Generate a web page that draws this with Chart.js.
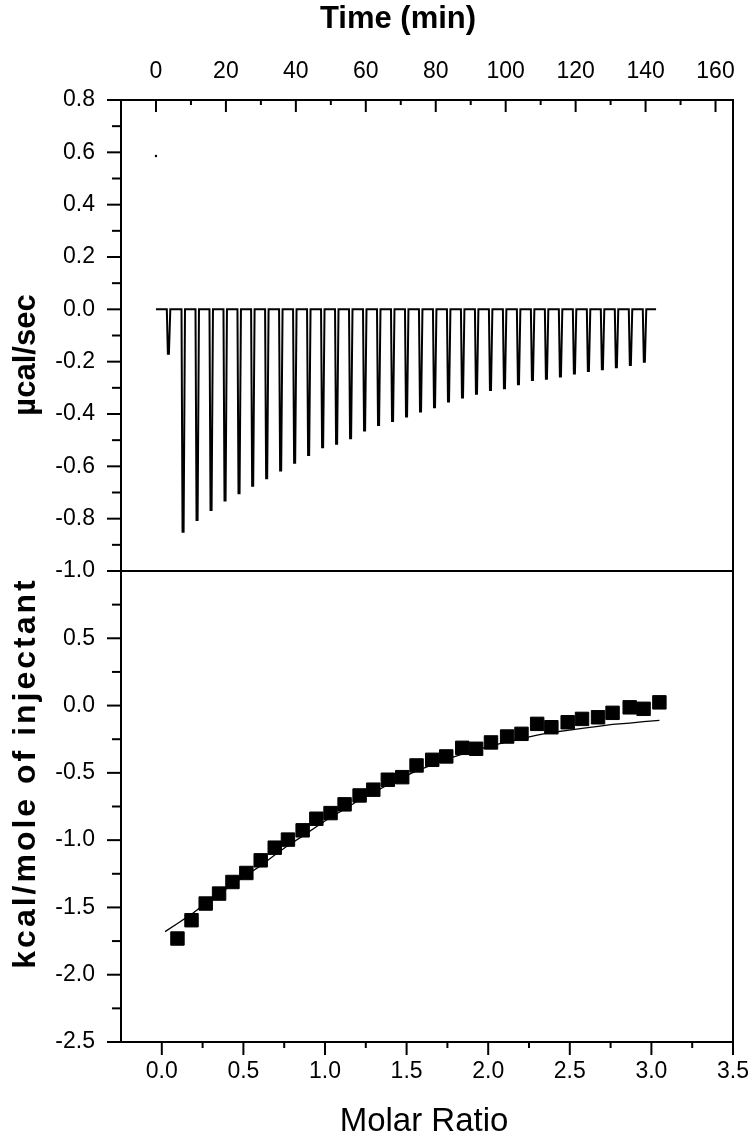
<!DOCTYPE html>
<html>
<head>
<meta charset="utf-8">
<script src="https://cdn.jsdelivr.net/npm/chart.js@4.4.1/dist/chart.umd.min.js"></script>
<style>
  html, body { margin: 0; padding: 0; background: #fff; }
</style>
</head>
<body>
<canvas id="itcChart" width="754" height="1143"></canvas>
<script>
// raw thermogram: injection start times (min) and peak heights (µcal/sec)
const injectionTime = [3.1, 7.3, 11.3, 15.3, 19.3, 23.3, 27.2, 31.2, 35.2, 39.2, 43.2, 47.2,
    51.2, 55.2, 59.2, 63.2, 67.2, 71.2, 75.2, 79.2, 83.2, 87.2, 91.2, 95.2, 99.2, 103.2,
    107.2, 111.2, 115.2, 119.2, 123.2, 127.2, 131.2, 135.2, 139.2];
const injectionPeak = [-0.17, -0.85, -0.805, -0.767, -0.731, -0.703, -0.674, -0.646, -0.616,
    -0.586, -0.557, -0.527, -0.514, -0.493, -0.463, -0.442, -0.427, -0.410, -0.390, -0.374,
    -0.352, -0.337, -0.323, -0.308, -0.302, -0.286, -0.270, -0.265, -0.257, -0.245, -0.236,
    -0.229, -0.221, -0.213, -0.200];
const baselineStart = 0;
const baselineEnd = 143;
const firstReading = [{ x: 0, y: 0.586 }];

// integrated heats (kcal/mole of injectant) vs molar ratio
const molarRatio = [0.096, 0.182, 0.269, 0.351, 0.433, 0.518, 0.606, 0.692, 0.773, 0.863,
    0.947, 1.034, 1.120, 1.212, 1.296, 1.385, 1.473, 1.561, 1.657, 1.743, 1.841, 1.926,
    2.017, 2.116, 2.204, 2.300, 2.387, 2.487, 2.575, 2.673, 2.762, 2.867, 2.952, 3.049];
const heat = [-1.731, -1.595, -1.471, -1.397, -1.311, -1.244, -1.150, -1.056, -0.996, -0.927,
    -0.841, -0.799, -0.734, -0.668, -0.625, -0.551, -0.532, -0.445, -0.403, -0.378, -0.314,
    -0.321, -0.274, -0.230, -0.210, -0.136, -0.161, -0.124, -0.099, -0.087, -0.054, -0.013,
    -0.024, 0.024];

// fitted curve
const fitRatio = [0.02, 0.096, 0.182, 0.269, 0.351, 0.433, 0.518, 0.606, 0.692, 0.773, 0.863,
    0.947, 1.034, 1.120, 1.212, 1.296, 1.385, 1.473, 1.561, 1.657, 1.743, 1.841, 1.926,
    2.017, 2.116, 2.204, 2.300, 2.387, 2.487, 2.575, 2.673, 2.762, 2.867, 2.952, 3.049];
const fitHeat = [-1.68, -1.62, -1.55, -1.47, -1.40, -1.33, -1.26, -1.19, -1.11, -1.04, -0.97,
    -0.90, -0.83, -0.77, -0.70, -0.645, -0.59, -0.535, -0.485, -0.44, -0.40, -0.36, -0.33,
    -0.30, -0.27, -0.245, -0.22, -0.20, -0.185, -0.17, -0.155, -0.14, -0.13, -0.12, -0.11];

// tick labels
const timeTicks = [0, 20, 40, 60, 80, 100, 120, 140, 160];
const powerTicks = [-1.0, -0.8, -0.6, -0.4, -0.2, 0.0, 0.2, 0.4, 0.6, 0.8];
const ratioTicks = [0.0, 0.5, 1.0, 1.5, 2.0, 2.5, 3.0, 3.5];
const heatTicks = [-2.5, -2.0, -1.5, -1.0, -0.5, 0.0, 0.5, 1.0];

// thermogram trace: baseline with a narrow spike per injection
const trace = [{ x: baselineStart, y: 0 }];
injectionTime.forEach((t, i) => {
    trace.push({ x: t, y: 0 }, { x: t + 0.3, y: injectionPeak[i] }, { x: t + 0.6, y: injectionPeak[i] }, { x: t + 1.0, y: 0 });
});
trace.push({ x: baselineEnd, y: 0 });

const FONT = "'Liberation Sans', Arial, sans-serif";

function midpoints(arr) {
    const out = [];
    for (let i = 0; i < arr.length - 1; i++) out.push((arr[i] + arr[i + 1]) / 2);
    return out;
}

// frame, panel separator, tick marks (major + minor) and axis titles
const axisFrame = {
    id: 'axisFrame',
    afterDatasetsDraw(chart) {
        const { ctx, chartArea: a, scales } = chart;
        ctx.save();
        ctx.strokeStyle = '#000';
        ctx.lineWidth = 2;
        ctx.lineCap = 'butt';

        function line(x1, y1, x2, y2) {
            ctx.beginPath();
            ctx.moveTo(x1, y1);
            ctx.lineTo(x2, y2);
            ctx.stroke();
        }

        ctx.strokeRect(a.left, a.top, a.right - a.left, a.bottom - a.top);
        const sep = scales.yPower.bottom;
        line(a.left - 14, sep, a.right, sep);

        // left ticks
        powerTicks.forEach(v => { const y = scales.yPower.getPixelForValue(v); line(a.left - 14, y, a.left, y); });
        midpoints(powerTicks).forEach(v => { const y = scales.yPower.getPixelForValue(v); line(a.left - 9, y, a.left, y); });
        heatTicks.forEach(v => { const y = scales.yHeat.getPixelForValue(v); line(a.left - 14, y, a.left, y); });
        midpoints(heatTicks).forEach(v => { const y = scales.yHeat.getPixelForValue(v); line(a.left - 9, y, a.left, y); });

        // top ticks point inward
        timeTicks.forEach(v => { const x = scales.xTime.getPixelForValue(v); line(x, a.top, x, a.top + 12); });
        midpoints(timeTicks).forEach(v => { const x = scales.xTime.getPixelForValue(v); line(x, a.top, x, a.top + 5); });

        // bottom ticks point outward
        ratioTicks.forEach(v => { const x = scales.xRatio.getPixelForValue(v); line(x, a.bottom, x, a.bottom + 13); });
        midpoints(ratioTicks).forEach(v => { const x = scales.xRatio.getPixelForValue(v); line(x, a.bottom, x, a.bottom + 6); });

        // axis titles
        ctx.fillStyle = '#000';
        ctx.textAlign = 'center';
        ctx.textBaseline = 'middle';
        ctx.font = "bold 31px " + FONT;
        ctx.fillText('Time (min)', 398, 19);
        ctx.font = "33px " + FONT;
        ctx.fillText('Molar Ratio', 424, 1122);

        ctx.font = "bold 31px " + FONT;
        ctx.translate(26, 355);
        ctx.rotate(-Math.PI / 2);
        ctx.fillText('µcal/sec', 0, 0);
        ctx.rotate(Math.PI / 2);
        ctx.translate(0, 418);
        ctx.rotate(-Math.PI / 2);
        ctx.font = "bold 32px " + FONT;
        ctx.letterSpacing = '3px';
        ctx.fillText('kcal/mole of injectant', 0, 0);
        ctx.letterSpacing = '0px';
        ctx.restore();
    }
};

const noGrid = { display: false, drawTicks: false, drawOnChartArea: false };
const tickFont = { family: FONT, size: 23 };

new Chart(document.getElementById('itcChart'), {
    data: {
        datasets: [
            {
                type: 'line',
                data: trace,
                xAxisID: 'xTime',
                yAxisID: 'yPower',
                borderColor: '#000',
                borderWidth: 2,
                pointRadius: 0,
                tension: 0
            },
            {
                type: 'scatter',
                data: firstReading,
                xAxisID: 'xTime',
                yAxisID: 'yPower',
                backgroundColor: '#000',
                pointRadius: 1.2,
                borderWidth: 0
            },
            {
                type: 'scatter',
                data: molarRatio.map((r, i) => ({ x: r, y: heat[i] })),
                xAxisID: 'xRatio',
                yAxisID: 'yHeat',
                pointStyle: 'rect',
                pointRadius: 9.5,
                backgroundColor: '#000',
                borderColor: '#000',
                borderWidth: 1,
                order: 0
            },
            {
                type: 'line',
                data: fitRatio.map((r, i) => ({ x: r, y: fitHeat[i] })),
                xAxisID: 'xRatio',
                yAxisID: 'yHeat',
                borderColor: '#000',
                borderWidth: 1.3,
                pointRadius: 0,
                tension: 0,
                order: 1
            }
        ]
    },
    options: {
        responsive: false,
        animation: false,
        layout: { padding: { left: 0, right: 21, top: 0, bottom: 0 } },
        plugins: {
            legend: { display: false },
            tooltip: { enabled: false }
        },
        scales: {
            xRatio: {
                type: 'linear',
                position: 'bottom',
                min: -0.25,
                max: 3.5,
                grid: noGrid,
                border: { display: false },
                afterBuildTicks: s => { s.ticks = ratioTicks.map(v => ({ value: v })); },
                afterFit: s => { s.height = 101; s.paddingLeft = 0; s.paddingRight = 0; },
                ticks: { color: '#000', font: tickFont, padding: 16, maxRotation: 0, callback: v => v.toFixed(1) }
            },
            xTime: {
                type: 'linear',
                position: 'top',
                min: -10,
                max: 165,
                grid: noGrid,
                border: { display: false },
                afterBuildTicks: s => { s.ticks = timeTicks.map(v => ({ value: v })); },
                afterFit: s => { s.height = 100; s.paddingLeft = 0; s.paddingRight = 0; },
                ticks: { color: '#000', font: tickFont, padding: 15, maxRotation: 0, callback: v => String(v) }
            },
            yHeat: {
                type: 'linear',
                position: 'left',
                stack: 'panels',
                stackWeight: 1,
                min: -2.5,
                max: 1.0,
                grid: noGrid,
                border: { display: false },
                afterBuildTicks: s => { s.ticks = heatTicks.map(v => ({ value: v })); },
                afterFit: s => { s.width = 121; },
                ticks: { color: '#000', font: tickFont, padding: 26, callback: v => v >= 1 ? '' : v.toFixed(1) }
            },
            yPower: {
                type: 'linear',
                position: 'left',
                stack: 'panels',
                stackWeight: 1,
                min: -1.0,
                max: 0.8,
                grid: noGrid,
                border: { display: false },
                afterBuildTicks: s => { s.ticks = powerTicks.map(v => ({ value: v })); },
                afterFit: s => { s.width = 121; },
                ticks: { color: '#000', font: tickFont, padding: 26, callback: v => v.toFixed(1) }
            }
        }
    },
    plugins: [axisFrame]
});
</script>
</body>
</html>
